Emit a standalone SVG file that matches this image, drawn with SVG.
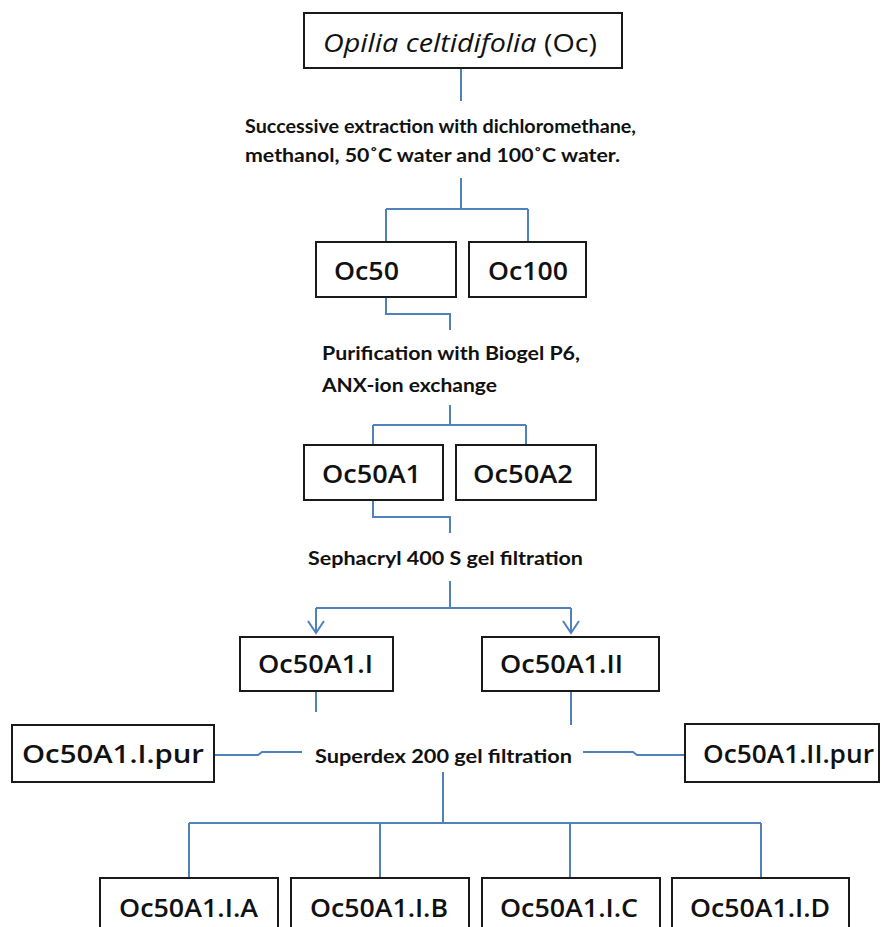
<svg xmlns="http://www.w3.org/2000/svg" width="889" height="927" viewBox="0 0 889 927">
<style>
.box{fill:#fff;stroke:#1a1a1a;stroke-width:2}
.lbl{font-family:"Open Sans",Lato,"Liberation Sans",sans-serif;font-size:25px;font-weight:600;fill:#111}
.ttl{font-family:"Open Sans",Lato,"Liberation Sans",sans-serif;font-size:25px;fill:#111}
.step{font-family:Lato,"Open Sans","Liberation Sans",sans-serif;font-size:18px;font-weight:bold;fill:#111}
.conn{fill:none;stroke:#4f81bd;stroke-width:2}
</style>
<rect width="889" height="927" fill="#fff"/>
<g id="connectors">
<path class="conn" d="M461,68 V101"/>
<path class="conn" d="M461,178 V209 M386,209 H528 M386,209 V242 M528,209 V242"/>
<path class="conn" d="M386,297 V314 H450 V330"/>
<path class="conn" d="M450,405 V425 M373,425 H526 M373,425 V445 M526,425 V445"/>
<path class="conn" d="M373,500 V517 H450 V533"/>
<path class="conn" d="M450,581 V608 M316,608 H571 M316,608 V633 M571,608 V633"/>
<path class="conn" d="M308,621 L316,633 L324,621 M563,621 L571,633 L579,621"/>
<path class="conn" d="M316,691 V712"/>
<path class="conn" d="M571,691 V725"/>
<path class="conn" d="M214,755 H258 L262,752 H302"/>
<path class="conn" d="M583,752 H633 L637,755 H685"/>
<path class="conn" d="M443,772 V823 M189,823 H761 M189,823 V878 M380,823 V878 M570,823 V878 M761,823 V878"/>
</g>
<g id="n-oc">
<rect class="box" x="304" y="13" width="318" height="55"/>
<text class="ttl" x="323" y="52" font-size="26" textLength="274" lengthAdjust="spacingAndGlyphs"><tspan font-style="italic">Opilia celtidifolia</tspan> (Oc)</text>
</g>
<g id="t-extraction">
<text class="step" x="245" y="133" textLength="391" lengthAdjust="spacingAndGlyphs">Successive extraction with dichloromethane,</text>
<text class="step" x="245" y="162" textLength="375" lengthAdjust="spacingAndGlyphs">methanol, 50˚C water and 100˚C  water.</text>
</g>
<g id="n-oc50">
<rect class="box" x="316" y="242" width="140" height="55"/>
<text class="lbl" x="334" y="280" textLength="65" lengthAdjust="spacingAndGlyphs">Oc50</text>
</g>
<g id="n-oc100">
<rect class="box" x="469" y="242" width="117" height="55"/>
<text class="lbl" x="488" y="280" textLength="80" lengthAdjust="spacingAndGlyphs">Oc100</text>
</g>
<g id="t-purification">
<text class="step" x="322" y="360" textLength="258" lengthAdjust="spacingAndGlyphs">Purification with Biogel P6,</text>
<text class="step" x="322" y="392" textLength="175" lengthAdjust="spacingAndGlyphs">ANX-ion exchange</text>
</g>
<g id="n-oc50a1">
<rect class="box" x="304" y="445" width="139" height="55"/>
<text class="lbl" x="322" y="483" textLength="99" lengthAdjust="spacingAndGlyphs">Oc50A1</text>
</g>
<g id="n-oc50a2">
<rect class="box" x="456" y="445" width="140" height="55"/>
<text class="lbl" x="473" y="483" textLength="100" lengthAdjust="spacingAndGlyphs">Oc50A2</text>
</g>
<g id="t-sephacryl">
<text class="step" x="308" y="565" textLength="275" lengthAdjust="spacingAndGlyphs">Sephacryl 400 S gel filtration</text>
</g>
<g id="n-oc50a1i">
<rect class="box" x="240" y="637" width="153" height="54"/>
<text class="lbl" x="258" y="673" textLength="115" lengthAdjust="spacingAndGlyphs">Oc50A1.I</text>
</g>
<g id="n-oc50a1ii">
<rect class="box" x="482" y="637" width="177" height="54"/>
<text class="lbl" x="500" y="673" textLength="123" lengthAdjust="spacingAndGlyphs">Oc50A1.II</text>
</g>
<g id="n-oc50a1ipur">
<rect class="box" x="12" y="725" width="202" height="57"/>
<text class="lbl" x="22" y="763" textLength="182" lengthAdjust="spacingAndGlyphs">Oc50A1.I.pur</text>
</g>
<g id="t-superdex">
<text class="step" x="315" y="763" textLength="257" lengthAdjust="spacingAndGlyphs">Superdex 200 gel filtration</text>
</g>
<g id="n-oc50a1iipur">
<rect class="box" x="685" y="724" width="194" height="58"/>
<text class="lbl" x="703" y="763" textLength="171" lengthAdjust="spacingAndGlyphs">Oc50A1.II.pur</text>
</g>
<g id="n-a">
<rect class="box" x="100" y="878" width="178" height="60"/>
<text class="lbl" x="119" y="917" textLength="139" lengthAdjust="spacingAndGlyphs">Oc50A1.I.A</text>
</g>
<g id="n-b">
<rect class="box" x="291" y="878" width="178" height="60"/>
<text class="lbl" x="310" y="917" textLength="138" lengthAdjust="spacingAndGlyphs">Oc50A1.I.B</text>
</g>
<g id="n-c">
<rect class="box" x="482" y="878" width="178" height="60"/>
<text class="lbl" x="500" y="917" textLength="138" lengthAdjust="spacingAndGlyphs">Oc50A1.I.C</text>
</g>
<g id="n-d">
<rect class="box" x="672" y="878" width="177" height="60"/>
<text class="lbl" x="690" y="917" textLength="140" lengthAdjust="spacingAndGlyphs">Oc50A1.I.D</text>
</g>
</svg>
